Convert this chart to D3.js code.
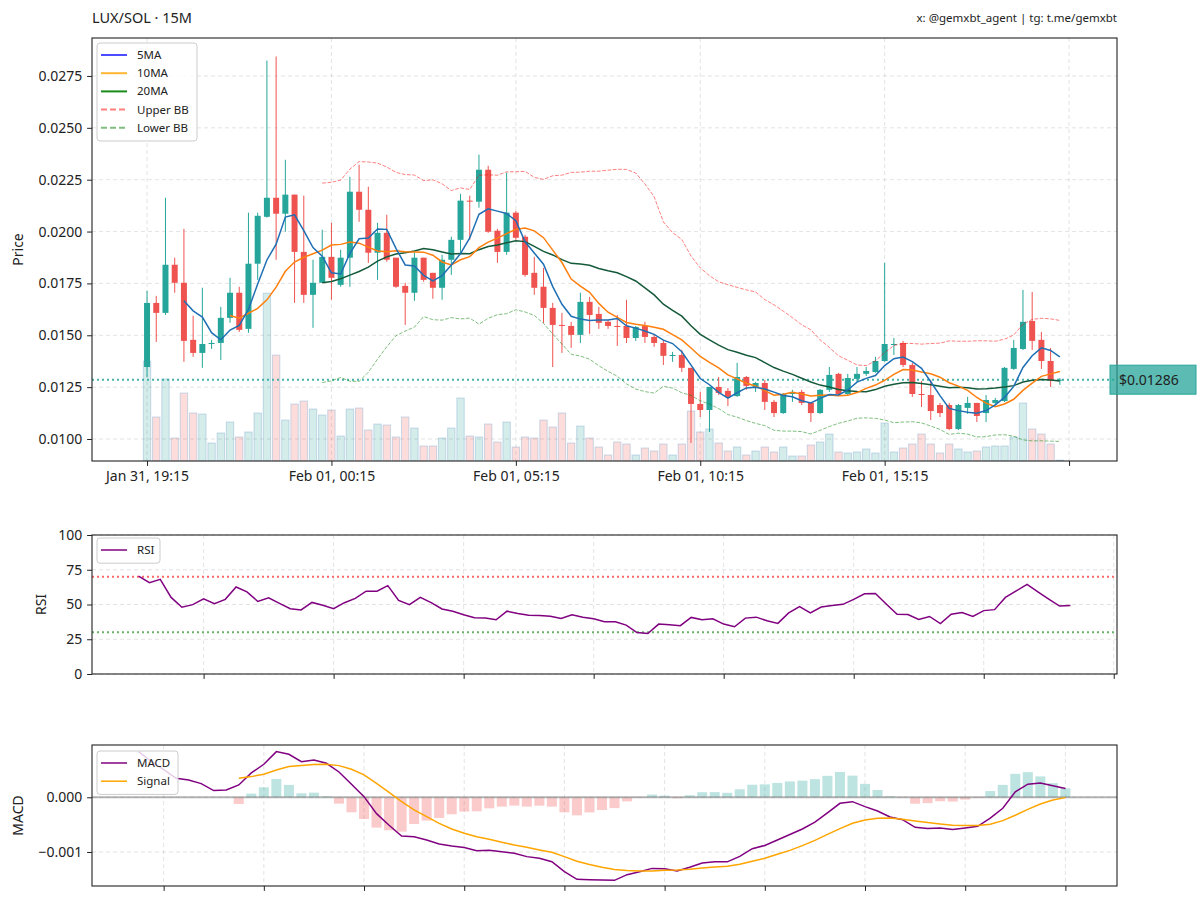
<!DOCTYPE html>
<html>
<head>
<meta charset="utf-8">
<script src="https://cdn.jsdelivr.net/npm/d3@7"></script>
<style>
  body { margin: 0; background: #fff; }
  text { font-family: "Noto Sans", "Open Sans", sans-serif; fill: #222; }
</style>
</head>
<body>
<svg id="chart" width="1200" height="903"></svg>
<script>
// ---- data (15 minute candles, Jan 31 19:15 .. Feb 01 20:00) ----
var opens = [0.01347,0.01656,0.01608,0.01840,0.01753,0.01478,0.01415,0.01458,0.01463,0.01584,
  0.01705,0.01531,0.01845,0.02071,0.02163,0.02086,0.02178,0.01902,0.01695,0.01753,
  0.01878,0.01743,0.01874,0.02192,0.02105,0.01898,0.01994,0.01874,0.01738,0.01705,
  0.01874,0.01801,0.01729,0.01864,0.01960,0.02149,0.02144,0.02298,0.02004,0.01902,
  0.02091,0.01975,0.01801,0.01734,0.01632,0.01550,0.01545,0.01502,0.01661,0.01603,
  0.01565,0.01545,0.01545,0.01487,0.01545,0.01492,0.01463,0.01401,0.01405,0.01343,
  0.01169,0.01140,0.01251,0.01232,0.01207,0.01299,0.01251,0.01270,0.01179,0.01125,
  0.01217,0.01227,0.01174,0.01125,0.01237,0.01314,0.01217,0.01290,0.01314,0.01323,
  0.01376,0.01454,0.01463,0.01357,0.01217,0.01212,0.01164,0.01164,0.01048,0.01150,
  0.01174,0.01125,0.01174,0.01183,0.01338,0.01434,0.01569,0.01478,0.01376,0.01282];
var highs = [0.01714,0.01690,0.02163,0.01874,0.02013,0.01594,0.01729,0.01478,0.01637,0.01777,
  0.01734,0.02091,0.02091,0.02824,0.02844,0.02346,0.02178,0.02173,0.01864,0.02009,
  0.02042,0.01912,0.02264,0.02322,0.02216,0.02042,0.02081,0.01874,0.01753,0.01898,
  0.01874,0.01801,0.01888,0.01975,0.02182,0.02173,0.02371,0.02317,0.02013,0.02284,
  0.02100,0.01984,0.01878,0.01825,0.01656,0.01608,0.01565,0.01705,0.01685,0.01637,
  0.01574,0.01598,0.01671,0.01545,0.01565,0.01502,0.01478,0.01420,0.01430,0.01343,
  0.01227,0.01251,0.01299,0.01246,0.01367,0.01304,0.01275,0.01285,0.01188,0.01222,
  0.01237,0.01237,0.01179,0.01241,0.01347,0.01319,0.01314,0.01347,0.01347,0.01396,
  0.01849,0.01487,0.01473,0.01367,0.01280,0.01285,0.01174,0.01174,0.01169,0.01203,
  0.01174,0.01212,0.01198,0.01347,0.01478,0.01719,0.01709,0.01516,0.01439,0.01294];
var lows = [0.01299,0.01468,0.01598,0.01705,0.01372,0.01396,0.01343,0.01434,0.01381,0.01560,
  0.01516,0.01512,0.01767,0.02067,0.01864,0.01999,0.01656,0.01656,0.01536,0.01753,
  0.01671,0.01734,0.01734,0.02047,0.01849,0.01767,0.01854,0.01729,0.01550,0.01666,
  0.01758,0.01676,0.01671,0.01791,0.01898,0.01960,0.02115,0.01994,0.01849,0.01888,
  0.01960,0.01782,0.01695,0.01560,0.01347,0.01415,0.01439,0.01463,0.01507,0.01531,
  0.01531,0.01449,0.01463,0.01473,0.01463,0.01444,0.01357,0.01372,0.01323,0.00981,
  0.01106,0.01034,0.01212,0.01159,0.01203,0.01237,0.01227,0.01140,0.01106,0.01121,
  0.01179,0.01164,0.01082,0.01121,0.01227,0.01212,0.01212,0.01275,0.01304,0.01319,
  0.01372,0.01405,0.01347,0.01203,0.01154,0.01092,0.01106,0.01043,0.01043,0.01121,
  0.01082,0.01082,0.01164,0.01179,0.01333,0.01429,0.01429,0.01338,0.01251,0.01261];
var closes = [0.01656,0.01608,0.01840,0.01753,0.01473,0.01415,0.01458,0.01463,0.01584,0.01705,
  0.01526,0.01845,0.02076,0.02163,0.02086,0.02178,0.01902,0.01695,0.01753,0.01878,
  0.01777,0.01874,0.02192,0.02105,0.01898,0.01994,0.01864,0.01734,0.01705,0.01874,
  0.01767,0.01729,0.01864,0.01960,0.02149,0.02144,0.02298,0.01999,0.01902,0.02091,
  0.01970,0.01791,0.01729,0.01632,0.01550,0.01545,0.01502,0.01661,0.01598,0.01560,
  0.01545,0.01540,0.01487,0.01540,0.01492,0.01463,0.01401,0.01405,0.01343,0.01169,
  0.01140,0.01251,0.01222,0.01203,0.01299,0.01256,0.01270,0.01179,0.01125,0.01217,
  0.01227,0.01174,0.01125,0.01237,0.01309,0.01217,0.01294,0.01314,0.01328,0.01376,
  0.01458,0.01458,0.01357,0.01217,0.01212,0.01135,0.01125,0.01048,0.01164,0.01174,
  0.01111,0.01188,0.01188,0.01343,0.01439,0.01565,0.01473,0.01376,0.01282,0.01286];
var volumes = [1000,440,820,230,680,480,470,180,280,390,
  240,290,480,1680,1060,410,570,600,520,460,
  510,250,520,530,310,370,360,240,440,330,
  150,150,230,330,630,250,240,370,190,390,
  140,240,230,410,340,480,180,350,230,140,
  60,190,170,60,130,100,170,60,170,500,
  290,320,180,100,140,60,100,140,90,140,
  50,50,160,190,270,90,80,90,120,80,
  380,90,130,170,270,170,80,170,120,90,
  100,140,150,150,240,580,320,270,170,8];

var tickIndex = [0, 20, 40, 60, 80, 100];
var tickLabels = ['Jan 31, 19:15', 'Feb 01, 00:15', 'Feb 01, 05:15', 'Feb 01, 10:15', 'Feb 01, 15:15', ''];
var priceTicks = [0.0100, 0.0125, 0.0150, 0.0175, 0.0200, 0.0225, 0.0250, 0.0275];
var lastPrice = 0.01286;

// RSI(14), one value per candle starting at the 14th
var rsiValues = [70.4,65.7,68.1,55.1,48.0,49.9,54.1,50.6,53.7,62.6,
  59.1,52.2,54.8,50.8,47.0,46.1,51.5,49.4,47.0,51.3,
  54.4,59.6,59.6,63.6,53.0,49.9,55.1,51.3,46.8,45.2,
  42.6,40.4,40.2,39.0,45.2,43.5,42.3,42.1,41.6,40.0,
  42.6,40.8,39.7,37.6,37.6,35.2,29.8,29.1,35.9,35.5,
  34.8,40.7,39.0,39.7,35.9,34.0,40.2,40.9,38.3,36.4,
  44.0,48.5,44.0,48.2,49.2,50.1,53.7,57.7,57.9,50.4,
  43.0,42.8,39.2,41.4,36.2,43.0,44.2,41.4,45.6,46.3,
  55.1,59.8,64.5,59.1,53.9,48.9,49.2];
var rsiTicks = [0, 25, 50, 75, 100];
var rsiTickIndex = [6, 18, 30, 42, 54, 66, 78, 90];

// MACD(12,26) and its 9 period signal, signal starts at macd point 8
var macdValues = [0.000835,0.000659,0.000506,0.000348,0.000317,0.000250,0.000122,0.000134,0.000226,0.000445,
  0.000604,0.000835,0.000787,0.000652,0.000683,0.000622,0.000463,0.000238,0.000012,-0.000299,
  -0.000512,-0.000707,-0.000720,-0.000780,-0.000854,-0.000890,-0.000920,-0.000976,-0.000970,-0.000994,
  -0.001024,-0.001085,-0.001116,-0.001177,-0.001360,-0.001500,-0.001506,-0.001512,-0.001518,-0.001415,
  -0.001360,-0.001300,-0.001305,-0.001348,-0.001280,-0.001200,-0.001180,-0.001180,-0.001080,-0.000940,
  -0.000880,-0.000780,-0.000680,-0.000580,-0.000455,-0.000285,-0.000110,-0.000080,-0.000170,-0.000250,
  -0.000360,-0.000410,-0.000550,-0.000570,-0.000560,-0.000590,-0.000560,-0.000530,-0.000380,-0.000200,
  0.000100,0.000240,0.000260,0.000210,0.000160];
var signalStart = 8;
var signalValues = [0.000348,0.000378,0.000421,0.000500,0.000561,0.000579,0.000598,0.000604,0.000579,0.000512,
  0.000409,0.000256,0.000091,-0.000079,-0.000232,-0.000354,-0.000476,-0.000579,-0.000659,-0.000720,
  -0.000768,-0.000823,-0.000872,-0.000915,-0.000963,-0.001006,-0.001085,-0.001170,-0.001230,-0.001280,
  -0.001320,-0.001340,-0.001350,-0.001350,-0.001335,-0.001330,-0.001317,-0.001293,-0.001274,-0.001262,
  -0.001226,-0.001170,-0.001116,-0.001043,-0.000970,-0.000884,-0.000787,-0.000677,-0.000573,-0.000476,
  -0.000415,-0.000384,-0.000378,-0.000402,-0.000433,-0.000463,-0.000488,-0.000512,-0.000518,-0.000518,
  -0.000494,-0.000427,-0.000329,-0.000220,-0.000122,-0.000049,-0.000006];
var macdTicks = [-0.001, 0.000];
var macdTickIndex = [2, 10, 18, 26, 34, 42, 50, 58, 66, 74];

// ---- layout ----
var left = 92, right = 1117;
var main = {top: 38, bottom: 461};
var rsiBox = {top: 535, bottom: 674};
var macdBox = {top: 745, bottom: 886};
var upColor = '#26a69a', downColor = '#ef5350';

var svg = d3.select('#chart');
svg.append('rect').attr('width', 1200).attr('height', 903).attr('fill', '#fff');

function clip(id, box) {
  svg.append('clipPath').attr('id', id).append('rect')
    .attr('x', left).attr('y', box.top)
    .attr('width', right - left).attr('height', box.bottom - box.top);
}
clip('clipMain', main);
clip('clipRsi', rsiBox);
clip('clipMacd', macdBox);

function movingAverage(values, n) {
  return values.map(function(v, i) {
    if (i < n - 1) return null;
    return d3.mean(values.slice(i - n + 1, i + 1));
  });
}
function movingStd(values, n) {
  return values.map(function(v, i) {
    if (i < n - 1) return null;
    return d3.deviation(values.slice(i - n + 1, i + 1));
  });
}

function gridX(g, scale, ticks, box) {
  g.selectAll(null).data(ticks).enter().append('line')
    .attr('x1', function(d) { return scale(d); }).attr('x2', function(d) { return scale(d); })
    .attr('y1', box.top).attr('y2', box.bottom)
    .attr('stroke', '#b0b0b0').attr('stroke-opacity', 0.4)
    .attr('stroke-dasharray', '4,3').attr('stroke-width', 0.9);
}
function gridY(g, scale, ticks) {
  g.selectAll(null).data(ticks).enter().append('line')
    .attr('x1', left).attr('x2', right)
    .attr('y1', function(d) { return scale(d); }).attr('y2', function(d) { return scale(d); })
    .attr('stroke', '#b0b0b0').attr('stroke-opacity', 0.4)
    .attr('stroke-dasharray', '4,3').attr('stroke-width', 0.9);
}

function styleAxis(a) {
  a.select('.domain').remove();
  a.selectAll('.tick line').attr('stroke', '#222').attr('stroke-width', 1);
  a.selectAll('.tick text').attr('font-size', 14).attr('fill', '#222')
    .style('font-family', '"Noto Sans", "Open Sans", sans-serif');
}

function frame(box) {
  svg.append('rect')
    .attr('x', left).attr('y', box.top)
    .attr('width', right - left).attr('height', box.bottom - box.top)
    .attr('fill', 'none').attr('stroke', '#222').attr('stroke-width', 1.1);
}

function legend(x0, y0, w, items) {
  var lg = svg.append('g').attr('transform', 'translate(' + x0 + ',' + y0 + ')');
  lg.append('rect').attr('width', w).attr('height', items.length * 18.2 + 7)
    .attr('rx', 3).attr('fill', '#fff').attr('fill-opacity', 0.8)
    .attr('stroke', '#cccccc').attr('stroke-width', 1);
  var row = lg.selectAll('g.item').data(items).enter().append('g')
    .attr('transform', function(d, i) { return 'translate(0,' + (12 + i * 18.2) + ')'; });
  row.append('line').attr('x1', 4).attr('x2', 30)
    .attr('stroke', function(d) { return d.color; })
    .attr('stroke-width', function(d) { return d.width || 1.5; })
    .attr('stroke-dasharray', function(d) { return d.dash || null; });
  row.append('text').attr('x', 40).attr('dy', '0.35em').attr('font-size', 11.5)
    .text(function(d) { return d.label; });
}

// ---------- header ----------
svg.append('text').attr('x', left).attr('y', 23).attr('font-size', 14.5).text('LUX/SOL · 15M');
svg.append('text').attr('x', right).attr('y', 22).attr('font-size', 11.5)
  .attr('text-anchor', 'end').text('x: @gemxbt_agent | tg: t.me/gemxbt');

// ---------- price panel ----------
var x = d3.scaleLinear().domain([-5.97, 105.2]).range([left, right]);
var y = d3.scaleLinear().domain([0.00894, 0.02933]).range([main.bottom, main.top]);
var yVol = d3.scaleLinear().domain([0, d3.max(volumes) * 2.52]).range([main.bottom, main.top]);

var idx = d3.range(closes.length);
var isUp = function(i) { return closes[i] >= opens[i]; };

var pg = svg.append('g');
gridX(pg, x, tickIndex, main);
gridY(pg, y, priceTicks);

var plot = svg.append('g').attr('clip-path', 'url(#clipMain)');

// volume bars on a hidden second scale
var volW = 0.8 * (x(1) - x(0));
plot.append('g').selectAll('rect').data(idx).enter().append('rect')
  .attr('x', function(i) { return x(i) - volW / 2; })
  .attr('y', function(i) { return yVol(volumes[i]); })
  .attr('width', volW)
  .attr('height', function(i) { return main.bottom - yVol(volumes[i]); })
  .attr('fill', function(i) { return isUp(i) ? upColor : downColor; })
  .attr('fill-opacity', 0.2)
  .attr('stroke', '#7fa8cc').attr('stroke-opacity', 0.4).attr('stroke-width', 1);

// last price dotted line
plot.append('line').attr('x1', left).attr('x2', right)
  .attr('y1', y(lastPrice)).attr('y2', y(lastPrice))
  .attr('stroke', upColor).attr('stroke-opacity', 0.85)
  .attr('stroke-width', 2).attr('stroke-dasharray', '2,3');

// candles
var bodyW = 0.65 * (x(1) - x(0));
var candles = plot.append('g').selectAll('g').data(idx).enter().append('g');
candles.append('line')
  .attr('x1', function(i) { return x(i); }).attr('x2', function(i) { return x(i); })
  .attr('y1', function(i) { return y(highs[i]); }).attr('y2', function(i) { return y(lows[i]); })
  .attr('stroke', function(i) { return isUp(i) ? upColor : downColor; })
  .attr('stroke-width', 1);
candles.append('rect')
  .attr('x', function(i) { return x(i) - bodyW / 2; })
  .attr('y', function(i) { return y(Math.max(opens[i], closes[i])); })
  .attr('width', bodyW)
  .attr('height', function(i) { return Math.max(1, Math.abs(y(opens[i]) - y(closes[i]))); })
  .attr('fill', function(i) { return isUp(i) ? upColor : downColor; });

// moving averages and bollinger bands from the closes
var ma5 = movingAverage(closes, 5);
var ma10 = movingAverage(closes, 10);
var ma20 = movingAverage(closes, 20);
var sd20 = movingStd(closes, 20);
var upperBB = ma20.map(function(m, i) { return m == null ? null : m + 2 * sd20[i]; });
var lowerBB = ma20.map(function(m, i) { return m == null ? null : m - 2 * sd20[i]; });

var priceLine = d3.line()
  .defined(function(d) { return d != null; })
  .x(function(d, i) { return x(i); })
  .y(function(d) { return y(d); });

plot.append('path').datum(upperBB).attr('d', priceLine).attr('fill', 'none')
  .attr('stroke', 'rgba(255,0,0,0.5)').attr('stroke-width', 1).attr('stroke-dasharray', '3.7,1.6');
plot.append('path').datum(lowerBB).attr('d', priceLine).attr('fill', 'none')
  .attr('stroke', 'rgba(0,128,0,0.5)').attr('stroke-width', 1).attr('stroke-dasharray', '3.7,1.6');
plot.append('path').datum(ma20).attr('d', priceLine).attr('fill', 'none')
  .attr('stroke', '#14593a').attr('stroke-width', 1.5);
plot.append('path').datum(ma10).attr('d', priceLine).attr('fill', 'none')
  .attr('stroke', '#ff7f0e').attr('stroke-width', 1.5);
plot.append('path').datum(ma5).attr('d', priceLine).attr('fill', 'none')
  .attr('stroke', '#1f6fb4').attr('stroke-width', 1.5);

var ax = svg.append('g').attr('transform', 'translate(0,' + main.bottom + ')')
  .call(d3.axisBottom(x).tickValues(tickIndex)
    .tickFormat(function(d, i) { return tickLabels[i]; })
    .tickSize(4.9).tickPadding(4.9));
styleAxis(ax);
var ay = svg.append('g').attr('transform', 'translate(' + left + ',0)')
  .call(d3.axisLeft(y).tickValues(priceTicks).tickFormat(d3.format('.4f'))
    .tickSize(4.9).tickPadding(4.9));
styleAxis(ay);
svg.append('text').attr('transform', 'translate(23,' + ((main.top + main.bottom) / 2) + ') rotate(-90)')
  .attr('text-anchor', 'middle').attr('font-size', 14).text('Price');

frame(main);

// current price tag outside the axes
svg.append('rect').attr('x', 1110).attr('y', y(lastPrice) - 14.5).attr('width', 86).attr('height', 29)
  .attr('fill', upColor).attr('fill-opacity', 0.75).attr('stroke', upColor).attr('stroke-width', 1);
svg.append('text').attr('x', 1119).attr('y', y(lastPrice)).attr('dy', '0.35em')
  .attr('font-size', 14).attr('fill', '#000').text('$' + d3.format('.5f')(lastPrice));

legend(97, 43, 100, [
  {label: '5MA', color: 'rgba(0,0,255,0.7)', width: 2},
  {label: '10MA', color: 'rgba(255,165,0,0.8)', width: 2},
  {label: '20MA', color: 'rgba(0,128,0,0.9)', width: 2},
  {label: 'Upper BB', color: 'rgba(255,0,0,0.5)', width: 2, dash: '6,3'},
  {label: 'Lower BB', color: 'rgba(0,128,0,0.5)', width: 2, dash: '6,3'}
]);

// ---------- RSI panel ----------
var xr = d3.scaleLinear().domain([-4.3, 90.3]).range([left, right]);
var yr = d3.scaleLinear().domain([0, 100]).range([rsiBox.bottom, rsiBox.top]);
var rg = svg.append('g');
gridX(rg, xr, rsiTickIndex, rsiBox);
gridY(rg, yr, rsiTicks);
var rplot = svg.append('g').attr('clip-path', 'url(#clipRsi)');
rplot.append('line').attr('x1', left).attr('x2', right).attr('y1', yr(70)).attr('y2', yr(70))
  .attr('stroke', '#ff0000').attr('stroke-opacity', 0.6).attr('stroke-width', 2).attr('stroke-dasharray', '2,3');
rplot.append('line').attr('x1', left).attr('x2', right).attr('y1', yr(30)).attr('y2', yr(30))
  .attr('stroke', '#008000').attr('stroke-opacity', 0.6).attr('stroke-width', 2).attr('stroke-dasharray', '2,3');
rplot.append('path').datum(rsiValues)
  .attr('d', d3.line().x(function(d, i) { return xr(i); }).y(function(d) { return yr(d); }))
  .attr('fill', 'none').attr('stroke', '#800080').attr('stroke-width', 1.5);

var axr = svg.append('g').attr('transform', 'translate(0,' + rsiBox.bottom + ')')
  .call(d3.axisBottom(xr).tickValues(rsiTickIndex).tickFormat('').tickSize(4.9));
styleAxis(axr);
var ayr = svg.append('g').attr('transform', 'translate(' + left + ',0)')
  .call(d3.axisLeft(yr).tickValues(rsiTicks).tickSize(4.9).tickPadding(4.9));
styleAxis(ayr);
svg.append('text').attr('transform', 'translate(46,' + ((rsiBox.top + rsiBox.bottom) / 2) + ') rotate(-90)')
  .attr('text-anchor', 'middle').attr('font-size', 14).text('RSI');
frame(rsiBox);
legend(97, 538, 63, [{label: 'RSI', color: '#800080', width: 1.5}]);

// ---------- MACD panel ----------
var xm = d3.scaleLinear().domain([-3.72, 78.12]).range([left, right]);
var ym = d3.scaleLinear().domain([-0.001622, 0.000956]).range([macdBox.bottom, macdBox.top]);
var mg = svg.append('g');
gridX(mg, xm, macdTickIndex, macdBox);
gridY(mg, ym, macdTicks);
var mplot = svg.append('g').attr('clip-path', 'url(#clipMacd)');

var hist = signalValues.map(function(s, k) {
  return {i: k + signalStart, v: macdValues[k + signalStart] - s};
});
var histW = 0.8 * (xm(1) - xm(0));
mplot.append('g').selectAll('rect').data(hist).enter().append('rect')
  .attr('x', function(d) { return xm(d.i) - histW / 2; })
  .attr('y', function(d) { return ym(Math.max(0, d.v)); })
  .attr('width', histW)
  .attr('height', function(d) { return Math.abs(ym(d.v) - ym(0)); })
  .attr('fill', function(d) { return d.v >= 0 ? upColor : downColor; })
  .attr('fill-opacity', 0.3);
mplot.append('line').attr('x1', left).attr('x2', right).attr('y1', ym(0)).attr('y2', ym(0))
  .attr('stroke', '#808080').attr('stroke-opacity', 0.6).attr('stroke-width', 2);
mplot.append('path').datum(macdValues)
  .attr('d', d3.line().x(function(d, i) { return xm(i); }).y(function(d) { return ym(d); }))
  .attr('fill', 'none').attr('stroke', '#800080').attr('stroke-width', 1.5);
mplot.append('path').datum(signalValues)
  .attr('d', d3.line().x(function(d, k) { return xm(k + signalStart); }).y(function(d) { return ym(d); }))
  .attr('fill', 'none').attr('stroke', '#ffa500').attr('stroke-width', 1.5);

var axm = svg.append('g').attr('transform', 'translate(0,' + macdBox.bottom + ')')
  .call(d3.axisBottom(xm).tickValues(macdTickIndex).tickFormat('').tickSize(4.9));
styleAxis(axm);
var aym = svg.append('g').attr('transform', 'translate(' + left + ',0)')
  .call(d3.axisLeft(ym).tickValues(macdTicks).tickFormat(d3.format('.3f')).tickSize(4.9).tickPadding(4.9));
styleAxis(aym);
svg.append('text').attr('transform', 'translate(23,' + ((macdBox.top + macdBox.bottom) / 2) + ') rotate(-90)')
  .attr('text-anchor', 'middle').attr('font-size', 14).text('MACD');
frame(macdBox);
legend(97, 751, 81, [
  {label: 'MACD', color: '#800080', width: 1.5},
  {label: 'Signal', color: '#ffa500', width: 1.5}
]);
</script>
</body>
</html>
